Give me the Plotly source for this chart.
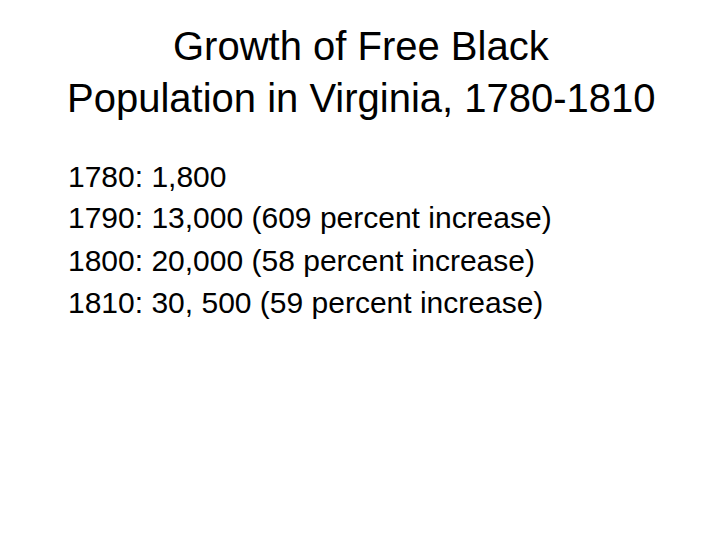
import plotly.graph_objects as go

# ---- data ----
title_lines = ["Growth of Free Black", "Population in Virginia, 1780-1810"]
years = [1780, 1790, 1800, 1810]
population = ["1,800", "13,000", "20,000", "30, 500"]
increase_pct = [None, 609, 58, 59]

W, H = 720, 540
FONT = "Liberation Sans, Arial, sans-serif"

fig = go.Figure()

# title, centred
for i, line in enumerate(title_lines):
    py = 38 + i * 52
    fig.add_annotation(
        text=line, x=(360 - 7) / W, y=1 - py / H, xref="paper", yref="paper",
        xanchor="center", yanchor="middle", showarrow=False,
        font=dict(family=FONT, size=40, color="black"),
    )

# body lines
for i, (yr, pop, pct) in enumerate(zip(years, population, increase_pct)):
    txt = f"{yr}: {pop}"
    if pct is not None:
        txt += f" ({pct} percent increase)"
    py = 168 + i * 42
    fig.add_annotation(
        text=txt, x=58 / W, y=1 - py / H, xref="paper", yref="paper",
        xanchor="left", yanchor="middle", showarrow=False,
        font=dict(family=FONT, size=30, color="black"),
    )

fig.update_xaxes(visible=False, range=[0, 1])
fig.update_yaxes(visible=False, range=[0, 1])
fig.update_layout(
    width=W, height=H,
    margin=dict(l=0, r=0, t=0, b=0),
    plot_bgcolor="white", paper_bgcolor="white",
    showlegend=False,
)

fig.write_html("out.html")
